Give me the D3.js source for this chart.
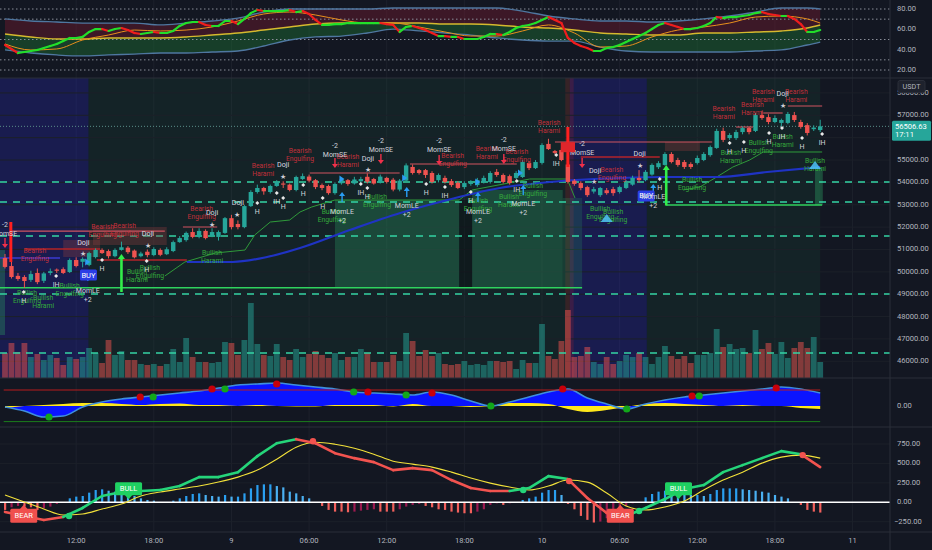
<!DOCTYPE html>
<html><head><meta charset="utf-8">
<script src="https://cdn.jsdelivr.net/npm/d3@7"></script>
<style>body{margin:0;background:#131722;overflow:hidden}text{font-family:Roboto,"Liberation Sans",sans-serif}</style>
</head><body><svg id="c" width="932" height="550"></svg>
<script>
// ---------- DATA ----------
const openP=[50620,50260,49820,49770,49640,49950,49600,49950,50100,50120,
49990,50530,50450,50310,50660,50980,50930,50700,50980,51080,
50950,50700,50900,50750,50980,50790,50930,51330,51420,51780,
51560,51830,51600,51560,51740,52400,52140,52000,52940,53570,
53750,53570,53840,53950,53900,53660,54150,54260,54100,53880,
53840,53520,53960,54100,53950,54050,54250,54150,54000,54200,
54120,53680,54080,54690,54550,54550,54420,54100,54200,54060,
53980,53790,53930,53880,54020,54020,54470,54330,54280,54200,
54240,54870,54640,54870,55720,55400,55450,54800,54080,53970,
53790,53590,53430,53650,53700,53570,53750,53900,54200,54100,
54350,54680,54780,55270,55000,54910,54820,54870,55000,55220,
55540,56300,55980,55980,56250,56430,56300,57010,56920,56700,
56660,56660,57010,56700,56560,56380,56340];
const closeP=[50220,49770,49680,49590,49900,49540,49930,50030,50050,49950,
50530,50260,50580,50840,50980,50840,50700,50980,51100,50880,
50650,50820,50750,51020,50760,51010,51330,51510,51740,51560,
51830,51510,51780,51780,52400,52000,52000,52940,53570,53750,
53600,53840,54020,53900,53660,54240,54280,54080,53790,53750,
53520,53930,54130,53930,54130,54150,54030,53950,54260,54020,
53680,54080,54760,54420,54420,54330,54020,54330,54020,53880,
53750,53970,53990,54100,54200,54420,54330,54020,53970,54420,
54910,54640,54910,55670,55490,55320,55000,54020,53930,53750,
53430,53700,53750,53520,53520,53790,53970,54200,54100,54470,
54780,54860,55270,54910,54780,54690,54690,55090,55270,55580,
56300,55900,56120,56250,56430,56250,57010,56880,56700,56880,
56790,57060,56790,56480,56210,56450,56506.63];
const highP=[50800,50450,49950,49850,50050,50150,50000,50150,50150,50200,
50600,50650,50650,50900,51050,51050,51000,51050,51350,51150,
51000,50900,51000,51100,51050,51100,51400,51600,51800,51950,
51950,51900,51950,51850,52450,52550,52300,53000,53650,53900,
53800,53900,54100,54050,53950,54300,54400,54350,54150,53950,
53900,54000,54200,54150,54250,54250,54400,54200,54350,54250,
54200,54150,54850,54800,54600,54600,54500,54400,54300,54150,
54050,54050,54100,54200,54300,54500,54600,54400,54350,54500,
55000,54950,55000,55750,55950,55450,55550,56150,54150,54050,
53850,53800,53800,53750,53800,53850,54100,54300,54550,54550,
54850,54950,55350,55350,55100,55000,54900,55200,55350,55650,
56400,56450,56200,56350,56500,56500,57100,57200,57050,57000,
56850,57150,57150,56800,56650,56550,56800];
const lowP=[50150,49700,49600,49280,49550,49450,49500,49850,49950,49900,
49950,50200,50200,50250,50600,50800,50600,50650,50950,50800,
50600,50650,50650,50700,50700,50750,50880,51300,51350,51500,
51500,51450,51550,51400,51700,51900,51900,51950,52900,53500,
53450,53500,53800,53750,53600,53600,54100,54000,53700,53650,
53450,53450,53900,53850,53900,53950,53950,53900,53950,53950,
53600,53600,54050,54350,54350,54200,53950,54000,53950,53800,
53700,53700,53850,53800,53950,53950,54250,53950,53900,54150,
54200,54550,54600,54800,55450,55250,54950,53950,53850,53650,
53350,53500,53350,53450,53400,53500,53700,53850,54000,54050,
54300,54600,54750,54850,54700,54600,54600,54800,54950,55150,
55500,55800,55900,55900,56150,56150,56250,56800,56600,56650,
56500,56600,56700,56400,56100,56300,56250];
const volume=[25,35,26,35,21,24,18,23,20,13,21,19,21,30,25,15,38,23,27,18,
18,14,13,14,12,14,29,16,40,21,16,16,15,16,36,35,23,38,75,34,
23,22,34,21,18,29,21,24,27,23,20,25,18,21,21,29,25,16,16,16,
23,17,45,37,22,28,22,25,14,13,14,17,13,14,13,17,17,16,17,9,
18,15,15,54,22,19,37,68,21,22,31,16,14,21,14,17,23,21,25,21,
14,21,32,22,19,22,15,23,23,25,49,31,34,29,30,25,48,29,35,24,
36,20,30,36,30,41,16];
const rsi=[44.6,40.7,36.7,37.7,38.7,39.7,41.6,43.6,45.6,48.5,
51.5,51.5,52.5,57.4,60.3,60.3,58.4,60.3,61.3,59.3,
56.4,55.4,56.4,57.4,56.4,56.4,58.4,63.3,66.2,67.2,
67.2,64.3,63.3,63.3,68.2,68.2,65.2,70.2,76,79,
78,78,78,78,79,77,78,75.1,69.2,64.3,
64.3,65.2,65.2,66.2,66.2,66.2,66.2,66.2,66.2,65.2,
64.3,57.4,62.3,63.3,61.3,59.3,56.4,53.4,53.4,52.5,
52.5,50.5,50.5,50.5,52.5,55.4,55.4,54.4,57.4,61.3,
63.3,64.3,66.2,69.2,72.1,69.2,66.2,51.5,46.6,43.6,
41.6,38.7,38.7,41.6,42.6,44.6,47.5,50.5,53.4,56.4,
60.3,64.3,66.2,64.3,62.3,60.3,60.3,61.3,63.3,66.2,
72.1,71.1,72.1,72.1,73.1,74.1,76,77,75.1,74.1,
73.1,73.1,70.2,65.2,57.4,57.4,59.3];
const bandIdx=[0,4,8,12,16,20,24,28,32,36,40,44,48,52,56,60,64,68,72,76,80,84,88,92,96,100,104,108,112,116,120,124,126];
const rsiUpper=[70.2,68.2,67.2,66.2,66.2,66.2,64.3,66.2,68.2,71.1,77,80,80,80,80,81,81,81,81,81,78,73.1,70.2,68.2,68.2,67.2,68.2,70.2,73.1,77,81,81,80];
const rsiMid=[55.4,52.5,50.5,50.5,51.5,51.5,51.5,52.5,54.4,56.4,59.3,62.3,65.2,66.2,66.2,66.2,66.2,65.2,65.2,64.3,62.3,61.3,59.3,56.4,55.4,54.4,54.4,56.4,56.4,57.4,58.4,61.3,64.3];
const rsiLower=[39.7,36.7,34.8,33.8,34.8,35.7,36.7,36.7,37.7,38.7,43.6,49.5,52.5,53.4,56.4,60.3,58.4,56.4,54.4,51.5,49.5,48.5,48.5,42.6,38.7,37.7,37.7,37.7,37.7,38.7,39.7,44.6,47.5];
const rsiSignal=[45.6,39.7,40.7,49.5,54.4,59.3,58.4,59.3,62.3,68.2,75.1,77,74.1,69.2,66.2,66.2,62.3,57.4,53.4,53.4,58.4,64.3,56.4,42.6,43.6,52.5,59.3,62.3,66.2,72.1,73.1,70.2,66.2];
const oscIdx=[0,3,6,9,12,15,18,21,24,27,30,33,36,39,42,45,48,51,54,57,60,63,66,69,72,75,78,81,84,87,90,93,96,99,102,105,108,111,114,117,120,123,126];
const macd=[-124,-176,-227,-188,-73,81,132,145,158,209,324,324,388,594,760,812,760,632,568,517,414,440,414,286,183,145,145,183,337,299,55,-137,-176,-73,42,171,222,388,478,568,658,619,453];
const macdSignal=[94,4,-86,-163,-150,-86,-22,81,132,171,209,260,324,414,555,709,773,747,696,619,529,491,453,388,312,247,196,158,209,286,260,119,-47,-99,-60,17,158,286,388,504,581,607,568];
const macdHist=[-98,-64,-47,-55,-64,-98,-77,-55,-21,-4,51,73,81,124,158,167,149,137,115,94,
81,51,30,21,4,4,21,51,81,107,115,94,81,73,94,73,73,115,179,222,
231,231,209,192,137,115,81,51,-4,-47,-98,-120,-120,-128,-120,-107,-98,-90,-120,-120,
-120,-90,-55,-34,-21,-47,-64,-90,-98,-120,-132,-141,-141,-120,-90,-34,-13,-34,-13,-4,
30,51,73,124,158,158,94,-21,-90,-175,-226,-260,-248,-205,-141,-77,-47,-13,-4,64,
107,137,149,137,115,107,94,94,81,107,158,179,179,179,167,158,149,137,124,94,
73,51,0,-34,-98,-120,-132];
const sqzMom=[-50,-250,-550,-500,-50,200,350,450,550,650,750,900,1050,1100,1150,1050,950,850,700,650,600,550,700,550,250,0,200,450,700,850,400,100,-150,100,300,450,550,650,750,850,950,850,650];
const sqzYellow=[-100,0,50,100,150,150,100,50,100,125,50,50,0,50,0,-25,-25,50,50,50,-25,100,0,0,-50,0,150,150,100,-150,-300,-200,-50,100,150,100,50,0,50,0,0,-100,-150];
const sqzDots=[[6.8,-550,"g"],[20.9,450,"r"],[22.9,450,"g"],[32,850,"r"],[34,850,"g"],[42,1100,"r"],[53.9,700,"g"],[56.1,700,"r"],[62,550,"g"],[66,650,"r"],[75.1,0,"g"],[86.2,850,"r"],[96.1,-150,"g"],[106.2,500,"r"],[107.3,500,"g"],[119.2,900,"r"]];
const macdDots=[[9.9,-176,"g"],[47.6,786,"r"],[80.1,158,"g"],[87.2,273,"r"],[98,-112,"g"],[123.3,607,"r"]];
const macdTags=[[2.9,"BEAR"],[19.1,"BULL"],[95.1,"BEAR"],[104.1,"BULL"]];
const priceTicks=[46000,47000,48000,49000,50000,51000,52000,53000,54000,55000,56000,57000,58000];
const rsiTicks=[20,40,60,80];
const rsiLevels=[80,70,50,30,20];
const macdTicks=[-250,0,250,500,750];
const timeTickIdx=[11,23,35,47,59,71,83,95,107,119,131];
const timeTickLbl=["12:00","18:00","9","06:00","12:00","18:00","10","06:00","12:00","18:00","11"];
const levels=[54020,53125,51600,49010,46370];
const lastPrice=56506.63, lastTime="17:11";
const zones=[[-1,13.4,"bear"],[13.4,87.8,"bull"],[87.8,99.7,"bear"],[99.7,126.5,"bull"]];
const greenBoxes=[[51,70.2,53212,49287,.32],[72.2,86.2,53660,49287,.32],[86.2,89.2,53302,49287,.22],[125.2,126.4,54643,52988,.4],[-1,0,50976,47176,.35]];
const patternBoxes=[[9,14.7,51423,50663],[13.6,25,52005,51200],[102,107.4,55806,55404]];
const redLevels=[[0.8,24.7,51823,1],[3.1,14.7,51020,2],[14.2,28.1,50528,2],[27.5,32.8,52005,1],[47.1,61,54420,1],[62.6,79.1,54822,1],[85,109.3,55806,1],[89,101.2,55135,2],[102.3,110,54241,2],[113,115.6,56476,1],[117.2,120.2,57103,1],[121,126.3,57416,1]];
const redSpikes=[[0.9,52230,50440],[87,56476,54688]];
const greenArrowsBig=[[18,49100,50800],[102.2,52965,54777]];
const greenLevels=[[-1,89.2,49287],[102.2,126.3,52988]];
const maIdx=[28.1,35.2,40.5,45.6,53.3,61.1,67.2,76.5,84.2,95.1,102.3,110,117.8,126];
const maVal=[50440,50440,50663,51065,51870,52631,53123,53749,54017,54196,54241,54241,54464,54688];
const maLeftIdx=[-1,8.5], maLeftVal=[50620,50620];
const trail1Idx=[24.7,27.8,32.5,37.1,38.6,41,44,45.6,47.4,51,70.2,72.2,81.1,86.9,88.1];
const trail1Val=[49813,50440,50842,50976,51647,52228,52317,52676,52899,53212,53212,53660,54151,54151,53302];
const trail2Idx=[104.8,107.4,110,112.5,115.1,117.2,126.3];
const trail2Val=[53660,53794,54241,54688,55001,55359,55359];
const bearLabels=[[4.6,50970,"Bearish|Engulfing"],[15.1,52004,"Bearish|Engulfing"],[18.5,52049,"Bearish|Engulfing"],[30.4,52810,"Bearish|Engulfing"],[39.9,54733,"Bearish|Harami"],[45.6,55404,"Bearish|Engulfing"],[53,55135,"Bearish|Harami"],[69.2,55180,"Bearish|Engulfing"],[74.5,55493,"Bearish|Harami"],[79.1,55359,"Bearish|Engulfing"],[84.1,56656,"Bearish|Harami"],[93.8,54554,"Bearish|Engulfing"],[111.1,57282,"Bearish|Harami"],[115.5,57461,"Bearish|Harami"],[117.2,58042,"Bearish|Harami"],[122.3,58042,"Bearish|Harami"]];
const bullLabels=[[3.4,49050,"Bullish|Engulfing"],[5.9,48827,"Bullish|Harami"],[10,49363,"Bullish|Engulfing"],[20.4,49990,"Bullish|Harami"],[22.4,50170,"Bullish|Engulfing"],[32,50840,"Bullish|Harami"],[50.5,52676,"Bullish|Engulfing"],[57.5,53347,"Bullish|Engulfing"],[73.1,53168,"Bullish|Engulfing"],[77.9,53347,"Bullish|Harami"],[81.6,53838,"Bullish|Engulfing"],[92,52810,"Bullish|Engulfing"],[94,52676,"Bullish|Engulfing"],[106.2,54107,"Bullish|Engulfing"],[112.2,55314,"Bullish|Harami"],[116.5,55761,"Bullish|Engulfing"],[120.2,56030,"Bullish|Harami"],[125.2,54956,"Bullish|Harami"]];
const dojiLabels=[[12.1,51289],[22.1,51692],[32,52631],[36,53078],[43,54778],[56.1,55046],[91.2,54509],[98.1,55269],[120.2,57952]];
const momSE=[[0,51690],[51,55215],[58.1,55448],[67.1,55448],[77.1,55493],[89.2,55314]];
const momLE=[[12.8,49144],[52.1,52676],[62.1,52944],[73.1,52676],[80.1,53034],[100.2,53347]];
const hLabels=[[2.9,48695,"H"],[7.9,49410,"IH"],[15,50125,"H"],[21.9,50081,"H"],[39,52676,"H"],[42,53123,"IH"],[43,52899,"H"],[46.1,53481,"H"],[49.1,52899,"H"],[55,53526,"IH"],[56,53347,"H"],[65.1,53526,"H"],[68,53392,"IH"],[72,53168,"H"],[79.1,53660,"IH"],[85.2,54822,"IH"],[101.2,53749,"H"],[112,55359,"H"],[114.2,55404,"H"],[118.1,55806,"H"],[120.1,56030,"IH"],[123.2,55582,"H"],[126.3,55761,"IH"]];
const stars=[[12.1,50798],[22.1,51155],[32,52094],[35.9,52541],[43,54241],[56.1,54554],[91,54017],[98.1,54733],[120.2,57416]];
const seArrows=[[0,51110],[51,54688],[58.1,54867],[67.1,54822],[77.1,54867],[89.2,54688]];
const leArrows=[[12.8,49992],[52.1,53526],[62.1,53749],[73.1,53526],[80.1,53838],[100.2,53883]];
const buyBoxes=[[12.9,49858],[99.1,53392]];
const blueTris=[[12.7,50440],[52,54151],[61.7,54196],[73,54017],[79.6,54420]];
const cyanTris=[[93,52406],[125.2,54777]];

// ---------- SETUP ----------
const svg=d3.select("#c"), AX=890;
const x=d3.scaleLinear().domain([0,126]).range([5,820.2]);
const yP=d3.scaleLinear().domain([46000,57000]).range([361.3,115.3]);
const yV=d3.scaleLinear().domain([0,100]).range([378,278]);
const yR=d3.scaleLinear().domain([20,80]).range([70,9]);
const yM=d3.scaleLinear().domain([0,1000]).range([406,386]);
const yD=d3.scaleLinear().domain([0,750]).range([502.3,444]);
const UP="#26a69a", DN="#ef5350";
svg.append("rect").attr("width",932).attr("height",550).attr("fill","#131722");
const defs=svg.append("defs");
function clip(id,y0,y1){defs.append("clipPath").attr("id",id).append("rect").attr("x",0).attr("y",y0).attr("width",AX).attr("height",y1-y0);}
clip("cR",0,78);clip("cP",78,378);clip("cS",378,427);clip("cD",427,532);
const gR=svg.append("g").attr("clip-path","url(#cR)");
const gP=svg.append("g").attr("clip-path","url(#cP)");
const gS=svg.append("g").attr("clip-path","url(#cS)");
const gD=svg.append("g").attr("clip-path","url(#cD)");
const gA=svg.append("g");

// vertical grid
timeTickIdx.forEach(i=>svg.insert("line","g").attr("x1",x(i)).attr("x2",x(i)).attr("y1",0).attr("y2",532).attr("stroke","#1d212c").attr("stroke-width",1));

// ---------- RSI PANEL ----------
const bandPts=bandIdx.map((i,k)=>({i,u:rsiUpper[k],m:rsiMid[k],l:rsiLower[k],s:rsiSignal[k]}));
const cv=d3.curveMonotoneX;
gR.append("path").datum(bandPts).attr("d",d3.area().x(d=>x(d.i)).y0(d=>yR(d.m)).y1(d=>yR(d.u)).curve(cv)).attr("fill","#6e1a2e").attr("opacity",0.45);
gR.append("path").datum(bandPts).attr("d",d3.area().x(d=>x(d.i)).y0(d=>yR(d.l)).y1(d=>yR(d.m)).curve(cv)).attr("fill","#1d6e34").attr("opacity",0.45);
rsiLevels.forEach(v=>gR.append("line").attr("x1",0).attr("x2",AX).attr("y1",yR(v)).attr("y2",yR(v)).attr("stroke","#8a8e99").attr("stroke-dasharray","1.5,2.5").attr("stroke-width",1));
["u","l"].forEach(k=>gR.append("path").datum(bandPts).attr("d",d3.line().x(d=>x(d.i)).y(d=>yR(d[k])).curve(cv)).attr("fill","none").attr("stroke","#4f77a0").attr("stroke-width",1.3));
gR.append("path").datum(bandPts).attr("d",d3.line().x(d=>x(d.i)).y(d=>yR(d.m)).curve(cv)).attr("fill","none").attr("stroke","#d6b92e").attr("stroke-width",1.4);
gR.append("path").datum(bandPts).attr("d",d3.line().x(d=>x(d.i)).y(d=>yR(d.s)).curve(cv)).attr("fill","none").attr("stroke","#e8901c").attr("stroke-width",1);
for(let i=1;i<rsi.length;i++){
  gR.append("line").attr("x1",x(i-1)).attr("y1",yR(rsi[i-1])).attr("x2",x(i)).attr("y2",yR(rsi[i])).attr("stroke",rsi[i]>=rsi[i-1]?"#22e02a":"#f01d1d").attr("stroke-width",2.2).attr("stroke-linecap","round");
}

// ---------- MAIN PANEL ----------
zones.forEach(z=>gP.append("rect").attr("x",x(z[0])-3.2).attr("y",78).attr("width",x(z[1])-x(z[0])).attr("height",300).attr("fill",z[2]==="bear"?"rgba(42,42,215,0.25)":"rgba(30,100,70,0.16)"));
gP.append("rect").attr("x",x(86.6)).attr("y",78).attr("width",x(87.9)-x(86.6)).attr("height",300).attr("fill","rgba(210,40,40,0.18)");
priceTicks.forEach(p=>gP.append("line").attr("x1",0).attr("x2",AX).attr("y1",yP(p)).attr("y2",yP(p)).attr("stroke","#1c2029").attr("stroke-width",1));
greenBoxes.forEach(b=>gP.append("rect").attr("x",x(b[0])).attr("width",x(b[1])-x(b[0])).attr("y",yP(b[2])).attr("height",yP(b[3])-yP(b[2])).attr("fill","#2a9a62").attr("opacity",b[4]));
gP.append("rect").attr("x",x(70.2)).attr("width",x(72.2)-x(70.2)).attr("y",yP(53212)).attr("height",yP(49287)-yP(53212)).attr("fill","rgba(0,0,0,0.25)");
// volume
volume.forEach((v,i)=>gP.append("rect").attr("x",x(i)-2.9).attr("width",5.8).attr("y",yV(v)).attr("height",yV(0)-yV(v)).attr("fill",closeP[i]>=openP[i]?UP:DN).attr("opacity",0.5));
// dashed levels
levels.forEach(p=>gP.append("line").attr("x1",0).attr("x2",AX).attr("y1",yP(p)).attr("y2",yP(p)).attr("stroke","#35d3a4").attr("stroke-width",1.6).attr("stroke-dasharray","7,6"));
gP.append("line").attr("x1",0).attr("x2",AX).attr("y1",yP(lastPrice)).attr("y2",yP(lastPrice)).attr("stroke","#5b8f8a").attr("stroke-width",1).attr("stroke-dasharray","1,2");
patternBoxes.forEach(b=>gP.append("rect").attr("x",x(b[0])).attr("width",x(b[1])-x(b[0])).attr("y",yP(b[2])).attr("height",yP(b[3])-yP(b[2])).attr("fill","#8a3c3c").attr("opacity",0.35));
redLevels.forEach(r=>gP.append("line").attr("x1",x(r[0])).attr("x2",x(r[1])).attr("y1",yP(r[2])).attr("y2",yP(r[2])).attr("stroke",r[3]===2?"#b3232a":"#cf5560").attr("stroke-width",r[3]===2?1.6:1.1));
greenLevels.forEach(r=>gP.append("line").attr("x1",x(r[0])).attr("x2",x(r[1])).attr("y1",yP(r[2])).attr("y2",yP(r[2])).attr("stroke","#2fd35e").attr("stroke-width",1.6));
const lineP=d3.line().x(d=>x(d[0])).y(d=>yP(d[1]));
gP.append("path").datum(trail1Idx.map((i,k)=>[i,trail1Val[k]])).attr("d",lineP).attr("fill","none").attr("stroke","#2f9a3a").attr("stroke-width",1);
gP.append("path").datum(trail2Idx.map((i,k)=>[i,trail2Val[k]])).attr("d",lineP).attr("fill","none").attr("stroke","#2f9a3a").attr("stroke-width",1);
gP.append("path").datum(maIdx.map((i,k)=>[i,maVal[k]])).attr("d",lineP.curve(d3.curveMonotoneX)).attr("fill","none").attr("stroke","#1f33c4").attr("stroke-width",2.2);
gP.append("path").datum(maLeftIdx.map((i,k)=>[i,maLeftVal[k]])).attr("d",d3.line().x(d=>x(d[0])).y(d=>yP(d[1]))).attr("fill","none").attr("stroke","#3a3ad0").attr("stroke-width",1.5);
// candles
openP.forEach((o,i)=>{
  const c=closeP[i], col=c>=o?UP:DN;
  gP.append("line").attr("x1",x(i)).attr("x2",x(i)).attr("y1",yP(highP[i])).attr("y2",yP(lowP[i])).attr("stroke",col).attr("stroke-width",1);
  const t=yP(Math.max(o,c)), b=yP(Math.min(o,c));
  gP.append("rect").attr("x",x(i)-2.2).attr("width",4.4).attr("y",t).attr("height",Math.max(1,b-t)).attr("fill",col);
});
redSpikes.forEach(s=>gP.append("line").attr("x1",x(s[0])).attr("x2",x(s[0])).attr("y1",yP(s[1])).attr("y2",yP(s[2])).attr("stroke","#ff1f1f").attr("stroke-width",3));
greenArrowsBig.forEach(s=>{
  const xx=x(s[0]), y0=yP(s[1]), y1=yP(s[2]);
  gP.append("line").attr("x1",xx).attr("x2",xx).attr("y1",y0).attr("y2",y1+3).attr("stroke","#33ee4a").attr("stroke-width",2.6);
  gP.append("path").attr("d",`M${xx-3.5},${y1+5}L${xx},${y1}L${xx+3.5},${y1+5}Z`).attr("fill","#33ee4a");
});
// markers
const txt=(g,xx,yy,s,col,fs,anchor)=>g.append("text").attr("x",xx).attr("y",yy).attr("fill",col).attr("font-size",fs).attr("text-anchor",anchor||"middle").attr("dominant-baseline","middle").text(s);
function two(i,p,s,col){const parts=s.split("|");const t=gP.append("text").attr("fill",col).attr("font-size",6.8).attr("text-anchor","middle");parts.forEach((q,k)=>t.append("tspan").attr("x",x(i)).attr("y",yP(p)+2.4+k*8).text(q));}
bearLabels.forEach(d=>two(d[0],d[1],d[2],"#c0303a"));
bullLabels.forEach(d=>two(d[0],d[1],d[2],"#34a83c"));
dojiLabels.forEach(d=>txt(gP,x(d[0]),yP(d[1]),"Doji","#d8dae0",7.2));
stars.forEach(d=>txt(gP,x(d[0]),yP(d[1]),"★","#c9ccd4",6.5));
hLabels.forEach(d=>{txt(gP,x(d[0]),yP(d[1]),d[2],"#d1d4dc",7);gP.append("path").attr("d",`M${x(d[0])},${yP(d[1])-11}l2,2l-2,2l-2,-2z`).attr("fill","#e8e8e8");});
seArrows.forEach(d=>{const xx=x(d[0]),yy=yP(d[1]);gP.append("line").attr("x1",xx).attr("x2",xx).attr("y1",yy-9).attr("y2",yy-2).attr("stroke","#f0304a").attr("stroke-width",1.4);gP.append("path").attr("d",`M${xx-3},${yy-3}L${xx},${yy+1}L${xx+3},${yy-3}Z`).attr("fill","#f0304a");});
leArrows.forEach(d=>{const xx=x(d[0]),yy=yP(d[1]);gP.append("line").attr("x1",xx).attr("x2",xx).attr("y1",yy+2).attr("y2",yy+9).attr("stroke","#2a9df4").attr("stroke-width",1.4);gP.append("path").attr("d",`M${xx-3},${yy+3}L${xx},${yy-1}L${xx+3},${yy+3}Z`).attr("fill","#2a9df4");});
blueTris.forEach(d=>{const xx=x(d[0]),yy=yP(d[1]);gP.append("path").attr("d",`M${xx-2},${yy-3.5}L${xx+3},${yy}L${xx-2},${yy+3.5}Z`).attr("fill","#2a9df4");});
cyanTris.forEach(d=>{const xx=x(d[0]),yy=yP(d[1]);gP.append("path").attr("d",`M${xx-6},${yy+4}L${xx},${yy-4}L${xx+6},${yy+4}Z`).attr("fill","#4fc3f7").attr("opacity",0.85);});
buyBoxes.forEach(d=>{const xx=x(d[0]),yy=yP(d[1]);gP.append("rect").attr("x",xx-8.5).attr("y",yy-5.5).attr("width",17).attr("height",11).attr("rx",1.5).attr("fill","#2b3ee6");txt(gP,xx,yy+0.5,"BUY","#ffffff",7.5);});
momSE.forEach(d=>{txt(gP,x(d[0]),yP(d[1]),"MomSE","#d1d4dc",7);txt(gP,x(d[0]),yP(d[1])-9,"-2","#d1d4dc",7);});
momLE.forEach(d=>{txt(gP,x(d[0]),yP(d[1]),"MomLE","#d1d4dc",7);txt(gP,x(d[0]),yP(d[1])+9,"+2","#d1d4dc",7);});
// E box near the spike
gP.append("rect").attr("x",x(85.9)).attr("y",yP(55800)).attr("width",x(88.1)-x(85.9)).attr("height",yP(55350)-yP(55800)).attr("fill","#e0262b");

// ---------- SQUEEZE PANEL ----------
const sq=oscIdx.map((i,k)=>({i,m:sqzMom[k],y:sqzYellow[k]}));
gS.append("path").datum(sq).attr("d",d3.area().x(d=>x(d.i)).y0(yM(0)).y1(d=>yM(d.m)).curve(cv)).attr("fill","#0a14ff");
gS.append("path").datum(sq).attr("d",d3.area().x(d=>x(d.i)).y0(yM(0)).y1(d=>yM(d.y)).curve(cv)).attr("fill","#ffe81a");
gS.append("path").datum(sq).attr("d",d3.line().x(d=>x(d.i)).y(d=>yM(d.m)).curve(cv)).attr("fill","none").attr("stroke","#3f8fdc").attr("stroke-width",1.6);
gS.append("line").attr("x1",x(-0.2)).attr("x2",x(126)).attr("y1",yM(800)).attr("y2",yM(800)).attr("stroke","#b71c1c").attr("stroke-width",1);
gS.append("line").attr("x1",x(-0.2)).attr("x2",x(126)).attr("y1",yM(-780)).attr("y2",yM(-780)).attr("stroke","#1b7d1b").attr("stroke-width",1);
sqzDots.forEach(d=>gS.append("circle").attr("cx",x(d[0])).attr("cy",yM(d[1])).attr("r",3.6).attr("fill",d[2]==="r"?"#c8000a":"#12a71a"));

// ---------- MACD PANEL ----------
macdTicks.forEach(v=>{if(v!==0)gD.append("line").attr("x1",0).attr("x2",AX).attr("y1",yD(v)).attr("y2",yD(v)).attr("stroke","#1c2029");});
macdHist.forEach((h,i)=>{
  if(h===0)return;
  const prev=i?macdHist[i-1]:0;
  const col=h>0?(h>=prev?"#2a9ff0":"#4ab0f2"):(h<=prev?"#f2605c":"#9c1a50");
  gD.append("rect").attr("x",x(i)-1).attr("width",2.2).attr("y",Math.min(yD(h),yD(0))).attr("height",Math.abs(yD(h)-yD(0))).attr("fill",col);
});
gD.append("line").attr("x1",0).attr("x2",AX).attr("y1",yD(0)).attr("y2",yD(0)).attr("stroke","#ffffff").attr("stroke-width",1.4);
const md=oscIdx.map((i,k)=>({i,m:macd[k],s:macdSignal[k]}));
gD.append("path").datum(md).attr("d",d3.line().x(d=>x(d.i)).y(d=>yD(d.s)).curve(cv)).attr("fill","none").attr("stroke","#f2e13a").attr("stroke-width",1.1);
for(let k=1;k<md.length;k++){
  gD.append("line").attr("x1",x(md[k-1].i)).attr("y1",yD(md[k-1].m)).attr("x2",x(md[k].i)).attr("y2",yD(md[k].m)).attr("stroke",md[k].m>=md[k].s?"#25d57a":"#f2534f").attr("stroke-width",2.6).attr("stroke-linecap","round");
}
macdDots.forEach(d=>gD.append("circle").attr("cx",x(d[0])).attr("cy",yD(d[1])).attr("r",3.2).attr("fill",d[2]==="r"?"#f2534f":"#25d57a"));
macdTags.forEach(d=>{
  const xx=x(d[0]), bull=d[1]==="BULL", col=bull?"#1fd162":"#f0504d";
  if(bull){gD.append("rect").attr("x",xx-13.5).attr("y",yD(0)-20).attr("width",27).attr("height",13).attr("rx",1.5).attr("fill",col);
    gD.append("path").attr("d",`M${xx-4},${yD(0)-7.5}L${xx},${yD(0)-3}L${xx+4},${yD(0)-7.5}Z`).attr("fill",col);
    txt(gD,xx,yD(0)-13.3,"BULL","#ffffff",7.5);}
  else{gD.append("rect").attr("x",xx-13.5).attr("y",yD(0)+6.5).attr("width",27).attr("height",14).attr("rx",1.5).attr("fill",col);
    gD.append("path").attr("d",`M${xx-4},${yD(0)+7}L${xx},${yD(0)+2.5}L${xx+4},${yD(0)+7}Z`).attr("fill",col);
    txt(gD,xx,yD(0)+13.8,"BEAR","#ffffff",7.5);}
});

// ---------- AXES / FRAME ----------
[78,378,427,532].forEach(y=>gA.append("line").attr("x1",0).attr("x2",932).attr("y1",y).attr("y2",y).attr("stroke","#2a2e39").attr("stroke-width",1));
gA.append("line").attr("x1",AX).attr("x2",AX).attr("y1",0).attr("y2",550).attr("stroke","#2a2e39");
const AXC="#b2b5be";
priceTicks.forEach(p=>txt(gA,897,yP(p),d3.format(".2f")(p),AXC,7.6,"start"));
rsiTicks.forEach(v=>txt(gA,897,yR(v),d3.format(".2f")(v),AXC,7.6,"start"));
txt(gA,897,yM(0),"0.00",AXC,7.6,"start");
macdTicks.forEach(v=>txt(gA,v<0?894:897,yD(v),d3.format(".2f")(v),AXC,7.6,"start"));
timeTickIdx.forEach((i,k)=>txt(gA,x(i),541,timeTickLbl[k],AXC,7.6));
// USDT + last price tag
gA.append("rect").attr("x",898).attr("y",80.5).attr("width",27).attr("height",12).attr("rx",2).attr("fill","#1e222d").attr("stroke","#2a2e39");
txt(gA,911.5,87,"USDT",AXC,7.2);
const ly=yP(lastPrice);
gA.append("rect").attr("x",892).attr("y",ly-5.5).attr("width",39).attr("height",20).attr("rx",1.5).attr("fill","#26a69a");
txt(gA,895,ly+0.5,d3.format(".2f")(lastPrice),"#ffffff",7.6,"start");
txt(gA,895,ly+9,lastTime,"#ffffff",7.6,"start");
</script></body></html>
